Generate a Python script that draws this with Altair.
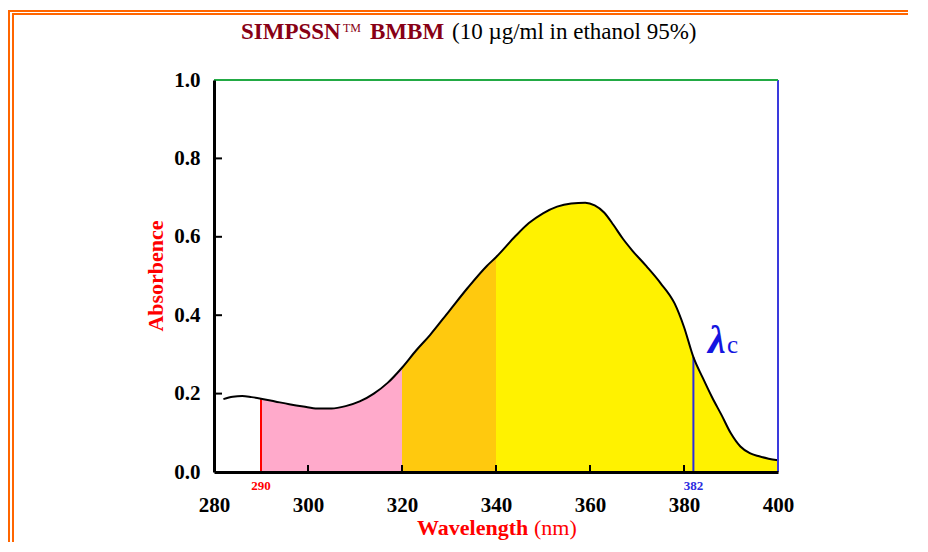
import altair as alt
import pandas as pd

# ---- data ----
wavelength = [282, 284, 286, 288, 290, 293, 296, 299, 302, 305, 308, 311, 314, 317,
              320, 323, 326, 330, 334, 338, 340, 344, 347, 350, 353, 356, 359, 361,
              363, 365, 367, 369, 372, 375, 378, 380, 382, 384, 386, 388, 390, 392,
              394, 396, 398, 400]
absorbance = [0.186, 0.192, 0.194, 0.191, 0.187, 0.180, 0.173, 0.167, 0.162, 0.162,
              0.168, 0.180, 0.200, 0.228, 0.266, 0.310, 0.350, 0.410, 0.470, 0.525,
              0.548, 0.600, 0.635, 0.660, 0.677, 0.685, 0.687, 0.680, 0.662, 0.630,
              0.595, 0.565, 0.525, 0.482, 0.430, 0.370, 0.293, 0.240, 0.190, 0.145,
              0.098, 0.065, 0.048, 0.040, 0.034, 0.030]

band_names = ["290-320", "320-340", "340-400"]
band_lo = [290, 320, 340]
band_hi = [320, 340, 400]
band_colors = ["#FFAACB", "#FFC90E", "#FFF200"]

x_tick_values = [280, 300, 320, 340, 360, 380, 400]
y_tick_values = [0.0, 0.2, 0.4, 0.6, 0.8, 1.0]
inner_x_ticks = [300, 320, 340, 360, 380]
inner_y_ticks = [0.2, 0.4, 0.6, 0.8]

marker_nm = [290, 382]
marker_abs = [0.187, 0.293]
marker_labels = ["290", "382"]
marker_colors = ["#FF0000", "#2B2BE0"]

FONT = "Liberation Serif"
W, H = 564, 392

curve = pd.DataFrame({"nm": wavelength, "abs": absorbance})
rows = []
for name, lo, hi in zip(band_names, band_lo, band_hi):
    for w, a in zip(wavelength, absorbance):
        if lo <= w <= hi:
            rows.append({"nm": w, "abs": a, "band": name})
bands = pd.DataFrame(rows)

xs = alt.Scale(domain=[280, 400], nice=False, zero=False)
ys = alt.Scale(domain=[0, 1], nice=False)
xa = alt.Axis(values=x_tick_values, title=None, ticks=False, grid=False,
              domainColor="black", domainWidth=3, labelFont=FONT, labelFontWeight="bold",
              labelFontSize=21, labelColor="black", labelPadding=22, labelFlush=False,
              labelOverlap=False, zindex=1)
ya = alt.Axis(values=y_tick_values, title=None, ticks=False, grid=False, format=".1f",
              domainColor="black", domainWidth=3, labelFont=FONT, labelFontWeight="bold",
              labelFontSize=21, labelColor="black", labelPadding=14, labelFlush=False,
              labelOverlap=False, zindex=1)


def X(f):
    return alt.X(f, scale=xs, axis=xa)


def Y(f):
    return alt.Y(f, scale=ys, axis=ya, stack=None)


area = alt.Chart(bands).mark_area(interpolate="monotone").encode(
    x=X("nm:Q"), y=Y("abs:Q"),
    color=alt.Color("band:N", scale=alt.Scale(domain=band_names, range=band_colors),
                    legend=None),
)

line = alt.Chart(curve).mark_line(interpolate="monotone", color="black",
                                  strokeWidth=2).encode(x=X("nm:Q"), y=Y("abs:Q"))

mk = pd.DataFrame({"nm": marker_nm, "abs": marker_abs, "lab": marker_labels,
                   "col": marker_colors})
markers = alt.Chart(mk).mark_rule(strokeWidth=2).encode(
    x=X("nm:Q"), y=Y("abs:Q"), y2=alt.value(H),
    color=alt.Color("col:N", scale=None))
marker_text = alt.Chart(mk).mark_text(font=FONT, fontWeight="bold", fontSize=13,
                                      baseline="middle").encode(
    x=X("nm:Q"), y=alt.value(406), text="lab:N",
    color=alt.Color("col:N", scale=None))

edge_right = alt.Chart(pd.DataFrame({"nm": [400], "a0": [0.0], "a1": [1.0]})).mark_rule(
    color="#3A3ADD", strokeWidth=2).encode(x=X("nm:Q"), y=Y("a0:Q"), y2="a1:Q")
edge_top = alt.Chart(pd.DataFrame({"n0": [280], "n1": [400], "a": [1.0]})).mark_rule(
    color="#22AA44", strokeWidth=2).encode(x=X("n0:Q"), x2="n1:Q", y=Y("a:Q"))

xt = alt.Chart(pd.DataFrame({"t": inner_x_ticks})).mark_rule(
    color="black", strokeWidth=2).encode(
    x=X("t:Q"), y=alt.value(H), y2=alt.value(H - 7))
yt = alt.Chart(pd.DataFrame({"t": inner_y_ticks})).mark_rule(
    color="black", strokeWidth=2).encode(
    y=Y("t:Q"), x=alt.value(0), x2=alt.value(8))


def label(txt, x, y, size, color, weight="normal", style="normal", angle=0,
          align="left", baseline="alphabetic"):
    return alt.Chart(pd.DataFrame({"t": [txt]})).mark_text(
        font=FONT, fontSize=size, color=color, fontWeight=weight, fontStyle=style,
        angle=angle, align=align, baseline=baseline).encode(
        text="t:N", x=alt.value(x), y=alt.value(y))


texts = [
    label("SIMPSSN", 27, -41, 23, "#880015", "bold"),
    label("TM", 129, -48, 12, "#880015"),
    label("BMBM", 156, -41, 23, "#880015", "bold"),
    label("(10 \u00b5g/ml in ethanol 95%)", 238, -41, 23, "black"),
    label("Wavelength", 203, 455, 22, "#FF0000", "bold"),
    label("(nm)", 320, 455, 22, "#FF0000"),
    label("Absorbence", -58, 196, 22, "#FF0000", "bold", angle=270,
          align="center", baseline="middle"),
    label("\u03bb", 494, 273, 40, "#1515E0", "bold", style="italic"),
    label("c", 513, 273, 25, "#1515E0"),
]

# decorative double orange frame (top and left)
ORANGE = "#FF6600"


def frame_rule(x1, x2, y1, y2):
    return alt.Chart(pd.DataFrame({"k": [0]})).mark_rule(
        color=ORANGE, strokeWidth=2).encode(
        x=alt.value(x1), x2=alt.value(x2), y=alt.value(y1), y2=alt.value(y2))


frame = [
    frame_rule(-205, -205, -70, 470),
    frame_rule(-206, 700, -69, -69),
    frame_rule(-201, -201, -67, 470),
    frame_rule(-202, 700, -66, -66),
]

chart = alt.layer(area, markers, line, edge_right, edge_top, xt, yt, marker_text,
                  *texts, *frame).properties(
    width=W, height=H,
    autosize=alt.AutoSizeParams(type="none"),
    padding={"left": 206, "top": 72, "right": 130, "bottom": 70},
).configure_view(stroke=None).configure(background="white")

chart.save("out.html", embed_options={"renderer": "svg", "actions": False})
